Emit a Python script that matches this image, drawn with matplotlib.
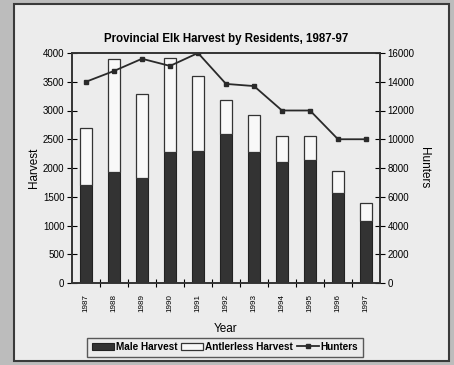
import numpy as np
import matplotlib.pyplot as plt
from matplotlib.patches import Rectangle

years = ["1987", "1988", "1989", "1990", "1991", "1992", "1993", "1994", "1995", "1996", "1997"]
male = [1700, 1930, 1820, 2270, 2300, 2600, 2270, 2110, 2140, 1570, 1080]
total = [2700, 3890, 3280, 3910, 3600, 3180, 2920, 2550, 2550, 1940, 1400]
antlerless = [t - m for t, m in zip(total, male)]
hunters = [14000, 14750, 15600, 15100, 16000, 13850, 13700, 12000, 12000, 10000, 10000]

plt.rcParams['font.family'] = ['Liberation Sans', 'DejaVu Sans']

fig = plt.figure(figsize=(4.54, 3.65), dpi=100)
fig.patch.set_facecolor("#bcbcbc")
# inner panel of the scanned page
panel = Rectangle((14/454, 1-361/365), 435/454, 357/365, transform=fig.transFigure,
                  facecolor="#ececec", edgecolor="#3a3a3a", linewidth=1.5, zorder=-5)
fig.patches.append(panel)

ax = fig.add_axes([72/454, 1-283/365, 308/454, 230/365])
ax.set_facecolor("#ececec")
x = np.arange(len(years)) + 0.5
w = 0.45
ax.bar(x, male, w, color="#333333", edgecolor="#222222", linewidth=0.8, label="Male Harvest")
ax.bar(x, antlerless, w, bottom=male, color="#f8f8f8", edgecolor="#333333", linewidth=0.9,
       label="Antlerless Harvest")
ax.set_xlim(0, len(years))
ax.set_ylim(0, 4000)
ax.set_yticks(range(0, 4001, 500))
ax.set_xticks(x)
ax.set_xticklabels(years, rotation=90, fontsize=5.8)
ax.set_xticks(np.arange(1, len(years)), minor=True)
ax.tick_params(axis="x", which="major", length=0, pad=8)
ax.tick_params(axis="x", which="minor", direction="inout", length=6, width=0.8)
ax.tick_params(axis="y", direction="inout", length=7, width=0.8, labelsize=7, pad=2)
ax.set_xlabel("Year", fontsize=8.5, labelpad=8)
ax.set_ylabel("Harvest", fontsize=8.5, labelpad=2)
for s in ax.spines.values():
    s.set_linewidth(1.2)
    s.set_color("#333333")

ax2 = ax.twinx()
ax2.plot(x, hunters, color="#2a2a2a", linewidth=1.3, marker="s", markersize=3, label="Hunters")
ax2.set_ylim(0, 16000)
ax2.set_yticks(range(0, 16001, 2000))
ax2.tick_params(axis="y", direction="inout", length=7, width=0.8, labelsize=7, pad=2)
ax2.set_ylabel("Hunters", fontsize=8.5, rotation=270, labelpad=11)
for s in ax2.spines.values():
    s.set_linewidth(1.2)
    s.set_color("#333333")

ax.set_title("Provincial Elk Harvest by Residents, 1987-97", fontsize=8.3, fontweight="bold", pad=8)

h1, l1 = ax.get_legend_handles_labels()
h2, l2 = ax2.get_legend_handles_labels()
leg = fig.legend(h1 + h2, l1 + l2, loc="center", bbox_to_anchor=(225/454, 1-347/365), ncol=3,
                 frameon=True, fancybox=False, edgecolor="#333333",
                 handlelength=2.2, handleheight=0.8, columnspacing=0.4, handletextpad=0.2,
                 borderpad=0.45, prop={"weight": "bold", "size": 7.2})
leg.get_frame().set_linewidth(1.0)
leg.get_frame().set_facecolor("#ececec")

fig.savefig("out.png", dpi=100, facecolor=fig.get_facecolor())
